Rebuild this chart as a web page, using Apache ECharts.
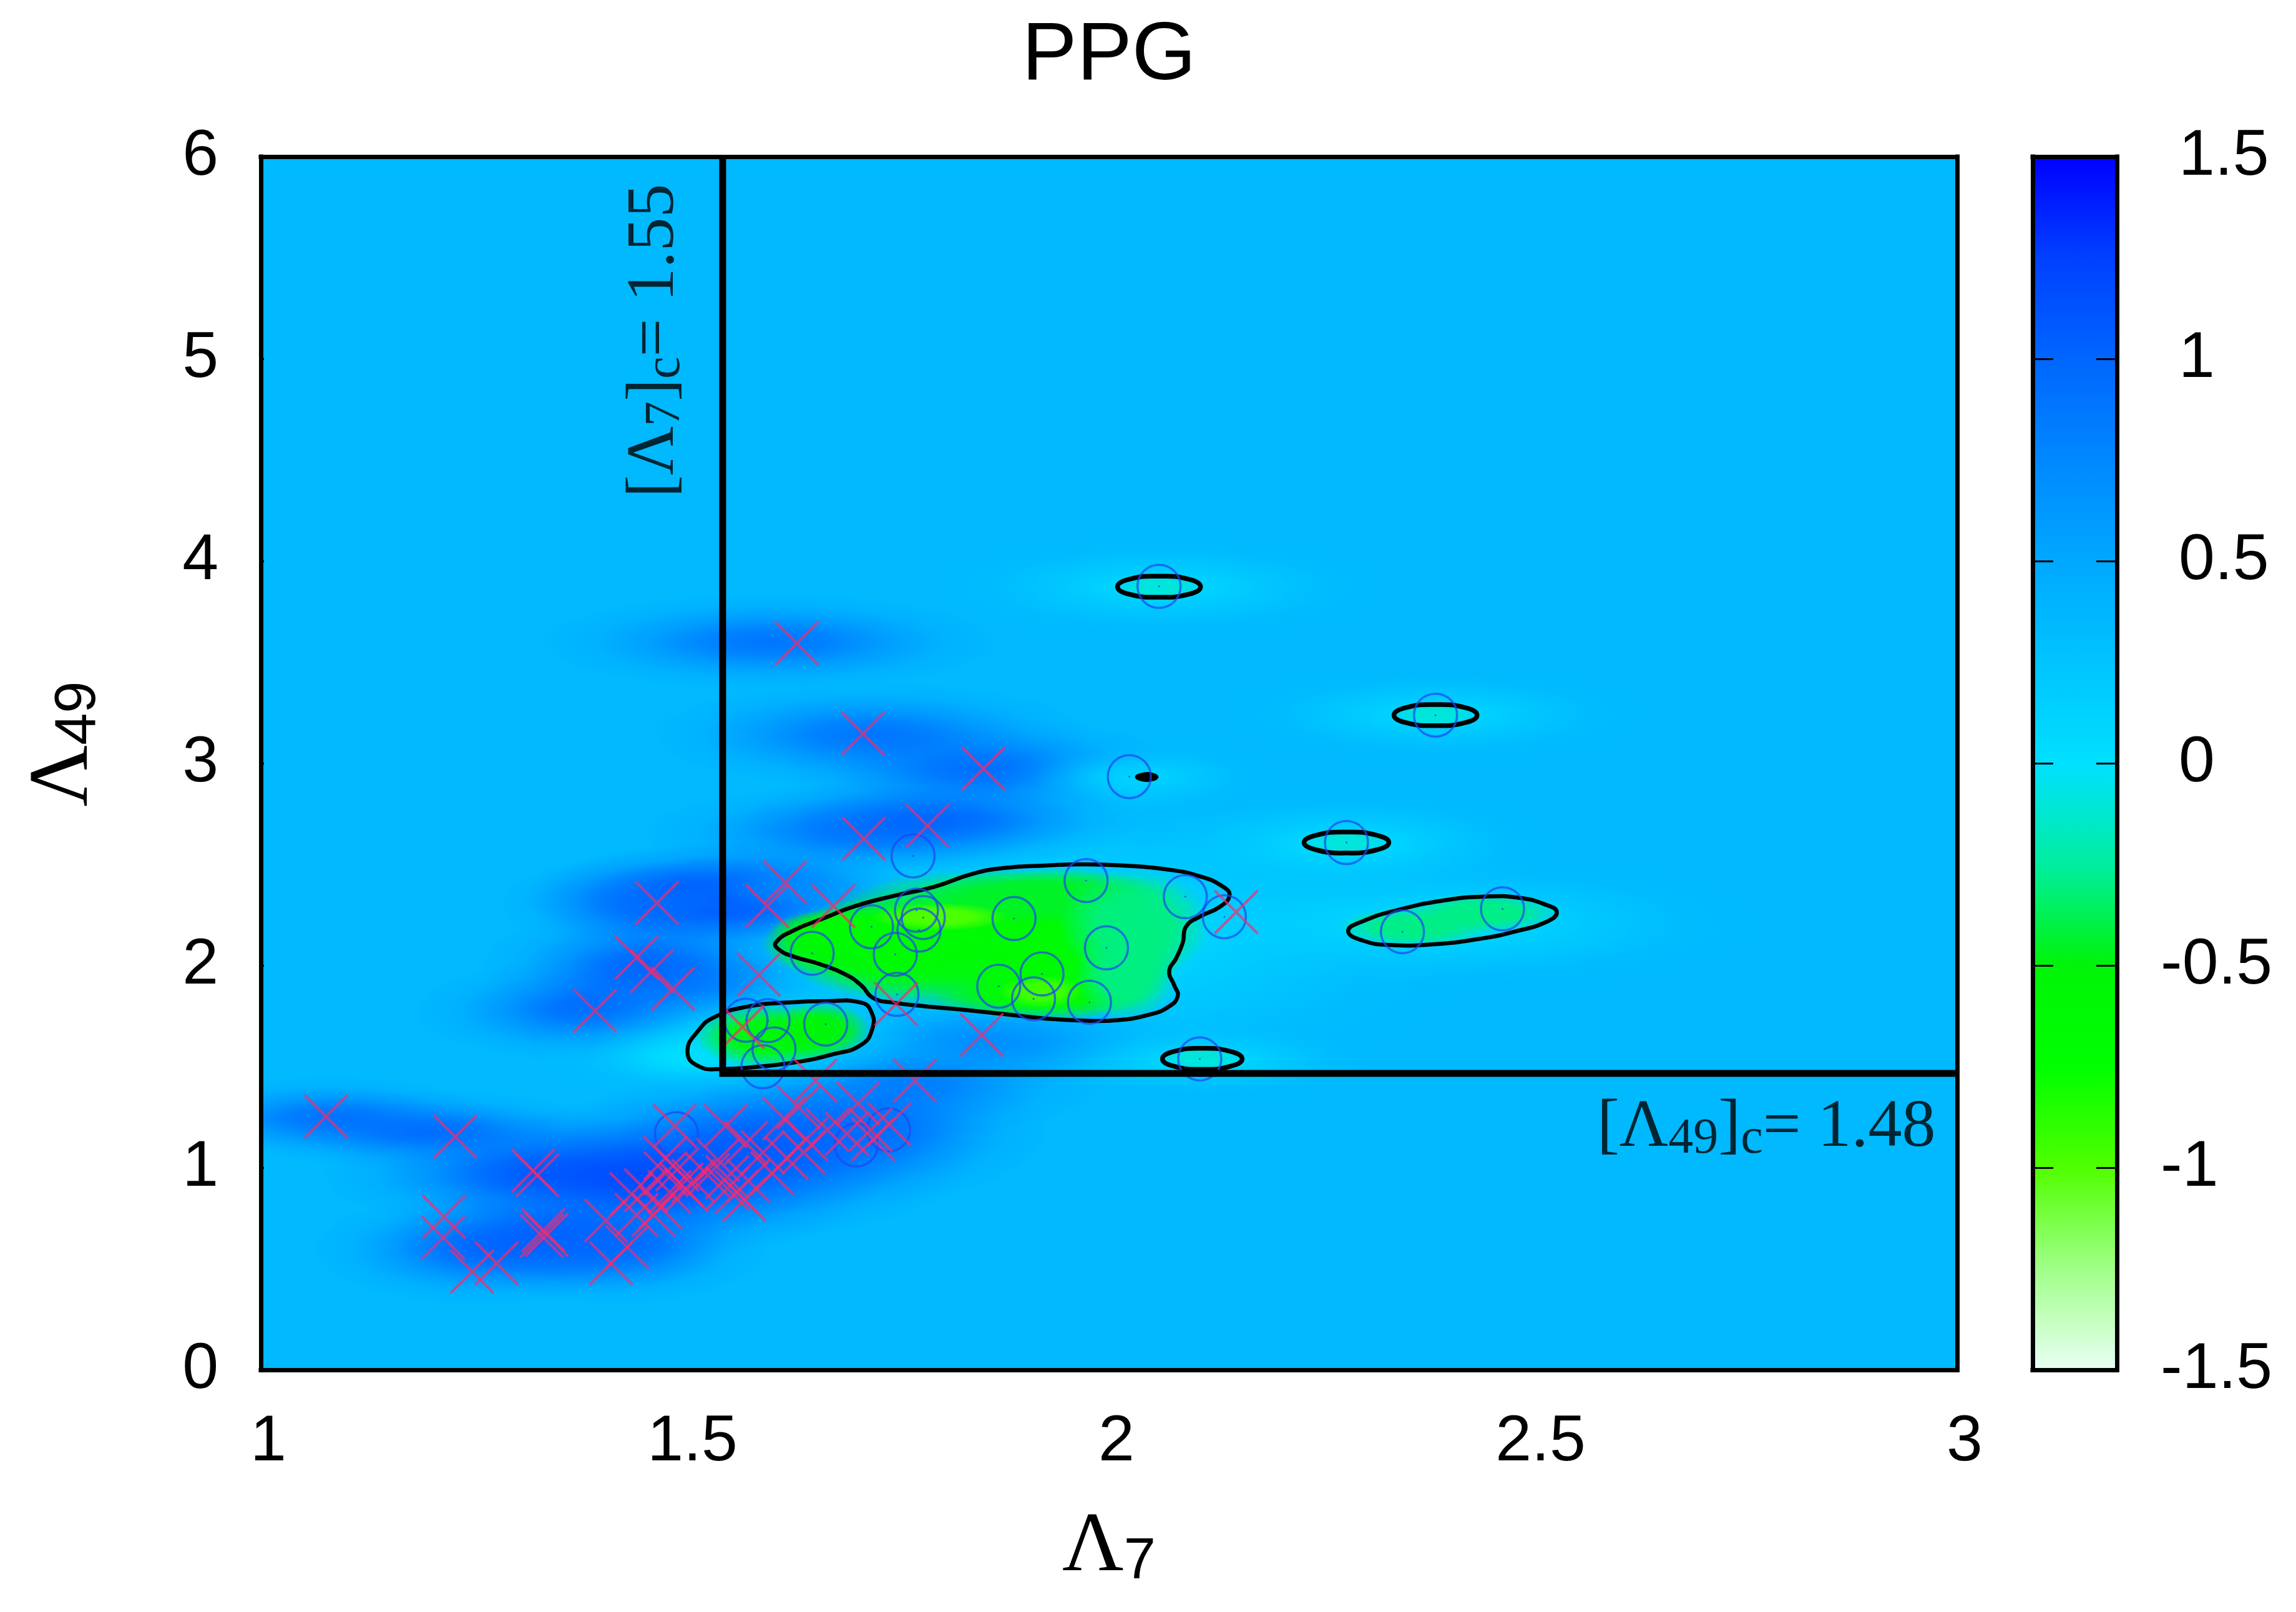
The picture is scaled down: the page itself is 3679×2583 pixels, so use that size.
<!DOCTYPE html>
<html><head><meta charset="utf-8">
<style>html,body{margin:0;padding:0;background:#fff}#c{width:3679px;height:2583px}</style>
<script src="https://cdn.jsdelivr.net/npm/echarts@6/dist/echarts.min.js"></script>
</head><body><div id="c"></div>
<script>
const xTickLabels = ['1','1.5','2','2.5','3'];
const yTickLabels = ['0','1','2','3','4','5','6'];
const barTickLabels = ['-1.5','-1','-0.5',' 0',' 0.5',' 1',' 1.5'];
// colour ramp, -1.5 .. 1.5 in steps of 0.25
const palette = ['#e8fff4','#a0ff88','#50ff00','#00ff00','#00f408','#00eea0','#00e0ff','#00c4ff','#00a8ff','#0088ff','#0066ff','#0040ff','#0000ff'];
const fieldBase = '#00b9ff';
// field blobs: x, y, spread x, spread y, value
const blueBlobs = [
 [1.60,3.60,.27,.24,.95],[1.72,3.14,.26,.26,.95],[1.85,2.97,.24,.26,1.0],
 [1.72,2.65,.27,.25,.95],[1.80,2.71,.24,.24,1.1],
 [1.55,2.33,.24,.28,1.45],[1.47,2.31,.19,.24,.95],[1.62,2.38,.17,.2,.8],
 [1.46,1.99,.2,.32,1.1],[1.40,1.78,.22,.26,1.05],[1.50,1.90,.17,.24,.95],
 [1.08,1.25,.2,.2,.95],[1.20,1.18,.22,.2,1.0],
 [1.33,.97,.26,.3,1.1],[1.47,.95,.26,.4,1.25],[1.60,1.1,.25,.44,1.15],[1.71,1.2,.22,.38,1.0],
 [1.26,.6,.2,.28,1.0],[1.35,.66,.2,.3,1.1],[1.42,.62,.18,.3,1.0],
 [1.86,1.65,.24,.26,.85],[1.75,1.42,.24,.28,.9]
];
const cyanBlobs = [
 [1.95,2.15,.5,.75,.0],[1.58,1.62,.26,.36,.0],[1.50,1.55,.12,.15,.0],[2.40,2.21,.36,.32,.03],
 [2.06,3.87,.26,.24,.05],[2.385,3.24,.24,.22,.05],[2.28,2.60,.24,.26,.04],[2.11,1.53,.2,.18,.03],[2.03,2.93,.16,.18,.08]
];
const greenBlobs = [
 [1.84,2.12,.2,.36,-.65],[1.95,2.11,.14,.38,-.65],[1.74,2.09,.13,.26,-.65],[1.67,2.11,.08,.16,-.6],[1.92,1.86,.13,.13,-.65],
 [1.92,2.34,.16,.14,-.45],[1.70,2.17,.1,.12,-.65],
 [2.03,2.2,.09,.28,-.3],[2.02,1.95,.06,.22,-.3],
 [1.80,2.24,.08,.07,-1.0],[1.92,1.87,.05,.08,-.95],
 [1.60,1.65,.09,.16,-.6],[1.66,1.68,.06,.14,-.55],
 [2.36,2.19,.09,.1,-.3],[2.44,2.26,.09,.1,-.3],
 [2.06,3.87,.05,.06,-.1],[2.385,3.24,.05,.06,-.1],[2.28,2.61,.05,.06,-.1],[2.11,1.54,.05,.06,-.1]
];
// 0.5 level contours
const contourMain = [[1.607,2.113],[1.629,2.175],[1.661,2.229],[1.699,2.291],[1.746,2.344],[1.793,2.388],[1.840,2.454],[1.877,2.482],[1.924,2.494],[1.971,2.500],[2.018,2.494],[2.065,2.477],[2.107,2.441],[2.135,2.388],[2.142,2.344],[2.131,2.291],[2.107,2.241],[2.091,2.193],[2.087,2.113],[2.079,2.034],[2.071,1.972],[2.077,1.901],[2.081,1.848],[2.070,1.795],[2.046,1.755],[2.009,1.729],[1.971,1.727],[1.924,1.738],[1.877,1.759],[1.830,1.780],[1.783,1.798],[1.746,1.816],[1.722,1.839],[1.708,1.901],[1.690,1.954],[1.661,2.004],[1.629,2.043],[1.611,2.078]];
const contourLow = [[1.503,1.573],[1.516,1.679],[1.535,1.745],[1.572,1.795],[1.619,1.816],[1.666,1.823],[1.708,1.816],[1.720,1.768],[1.721,1.688],[1.708,1.608],[1.675,1.561],[1.633,1.523],[1.586,1.499],[1.544,1.488],[1.516,1.502]];
const contourRight = [[2.282,2.170],[2.300,2.220],[2.342,2.276],[2.394,2.321],[2.441,2.340],[2.483,2.335],[2.516,2.299],[2.528,2.264],[2.518,2.220],[2.478,2.167],[2.436,2.131],[2.384,2.105],[2.333,2.101],[2.300,2.122]];
const contourA = [[2.010,3.873],[2.024,3.910],[2.059,3.925],[2.094,3.910],[2.108,3.873],[2.094,3.836],[2.059,3.821],[2.024,3.836]];
const contourB = [[2.336,3.238],[2.350,3.275],[2.385,3.290],[2.420,3.275],[2.434,3.238],[2.420,3.201],[2.385,3.186],[2.350,3.201]];
const contourC = [[2.230,2.608],[2.245,2.645],[2.280,2.660],[2.315,2.645],[2.330,2.608],[2.315,2.571],[2.280,2.556],[2.245,2.571]];
const contourD = [[2.063,1.538],[2.077,1.575],[2.110,1.590],[2.143,1.575],[2.157,1.538],[2.143,1.501],[2.110,1.486],[2.077,1.501]];
const contourE = [[2.033,2.932],[2.040,2.944],[2.050,2.944],[2.056,2.932],[2.050,2.920],[2.040,2.920]];
const contours = [contourMain,contourLow,contourRight,contourA,contourB,contourC,contourD,contourE];
// class A sample points (circles)
const circles = [[2.059,3.875],[2.024,2.934],[1.769,2.542],[1.973,2.420],[2.090,2.340],[2.136,2.241],[1.773,2.273],[1.781,2.237],[1.776,2.175],[1.720,2.191],[1.888,2.232],[1.650,2.060],[1.748,2.055],[1.997,2.087],[1.921,1.958],[1.870,1.897],[1.911,1.835],[1.977,1.818],[1.750,1.857],[1.666,1.710],[1.598,1.727],[1.572,1.729],[1.605,1.587],[1.592,1.499],[2.107,1.538],[2.385,3.238],[2.280,2.608],[2.346,2.167],[2.464,2.280],[1.490,1.168],[1.702,1.112],[1.740,1.187]];
// class B sample points (crosses)
const crosses = [[1.077,1.253],[1.229,1.153],[1.321,.985],[1.326,.962],[1.216,.757],[1.215,.654],[1.333,.692],[1.337,.668],[1.331,.663],[1.249,.486],[1.278,.527],[1.407,.738],[1.432,.607],[1.413,.527],
[1.467,2.309],[1.443,2.038],[1.461,1.972],[1.486,1.885],[1.394,1.776],[1.597,2.294],[1.618,2.411],[1.675,2.294],[1.587,1.954],[1.568,1.696],[1.711,2.627],[1.786,2.691],[1.850,1.656],[1.749,1.809],[1.632,3.593],[1.710,3.146],[1.852,2.973],[2.150,2.264],
[1.654,1.430],[1.771,1.430],[1.634,1.299],[1.704,1.318],[1.617,1.243],[1.548,1.206],[1.488,1.206],[1.643,1.140],[1.668,1.187],[1.691,1.168],[1.719,1.187],[1.741,1.215],[1.722,1.140],[1.539,1.038],[1.572,1.122],[1.592,1.075],[1.620,1.047],[1.640,1.075],[1.477,1.047],[1.491,.991],
[1.477,.972],[1.496,.916],[1.482,.879],[1.510,.935],[1.502,.888],[1.471,.804],[1.463,.766],[1.437,.869],[1.454,.888],[1.443,.766],[1.527,.963],[1.550,.953],[1.575,.935],[1.570,.841],[1.550,.897],[1.603,.972],[1.561,.879]];
const criticalLine = [[1.5445,6],[1.5445,1.466],[3,1.466]];
const barRange = [[0,-1.5,1,1.5]];

const LAMBDA = '\u039B';
const serif = 'Liberation Serif', sans = 'Liberation Sans';
const chart = echarts.init(document.getElementById('c'), null, {renderer:'canvas'});
const blobs = blueBlobs.concat(cyanBlobs, greenBlobs);

function renderBlob(params, api){
  const c = api.coord([api.value(0), api.value(1)]);
  const s = api.size([api.value(2), api.value(3)]);
  const col = api.visual('color');
  const soft = params.dataIndex < blueBlobs.length + cyanBlobs.length;
  const A = echarts.color.modifyAlpha;
  const stops = soft
    ? [{offset:0,color:A(col,.9)},{offset:.25,color:A(col,.72)},{offset:.5,color:A(col,.36)},{offset:.75,color:A(col,.1)},{offset:1,color:A(col,0)}]
    : [{offset:0,color:col},{offset:.5,color:A(col,.92)},{offset:.8,color:A(col,.4)},{offset:1,color:A(col,0)}];
  return {type:'circle', x:c[0], y:c[1], scaleX:s[0], scaleY:s[1], silent:true,
    shape:{cx:0,cy:0,r:1},
    style:{fill:{type:'radial',x:.5,y:.5,r:.5,colorStops:stops}}};
}
function renderContour(params, api){
  const pts = contours[params.dataIndex].map(p=>api.coord(p));
  const last = params.dataIndex===contours.length-1;
  return {type:'polygon', silent:true, shape:{points:pts, smooth:.5},
    style:{fill:last?'#000':'none', stroke:'#000', lineWidth:params.dataIndex>2&&!last?7.5:6.5}};
}
function renderBar(params, api){
  const a = api.coord([api.value(0),api.value(1)]), b = api.coord([api.value(2),api.value(3)]);
  return {type:'rect', silent:true, shape:{x:a[0],y:b[1],width:b[0]-a[0],height:a[1]-b[1]},
    style:{fill:{type:'linear',x:0,y:1,x2:0,y2:0,colorStops:palette.map((c,i)=>({offset:i/(palette.length-1),color:c}))}}};
}
const tickFont = {fontFamily:sans,fontSize:104,color:'#000'};
const frame = {show:true,lineStyle:{color:'#000',width:7,cap:'square'}};
const hiddenX = (g,pos,min,max)=>({type:'value',gridIndex:g,position:pos,min,max,z:6,axisLine:{show:true,onZero:false,lineStyle:frame.lineStyle},axisTick:{show:false},axisLabel:{show:false},splitLine:{show:false}});
const nameRich = {l:{fontFamily:serif,fontSize:136,color:'#000'},s:{fontFamily:sans,fontSize:92,color:'#000',padding:[48,0,0,0]}};

chart.setOption({
  animation:false, backgroundColor:'#ffffff',
  title:{text:'PPG',left:1772,top:20,textAlign:'center',textStyle:{fontFamily:sans,fontSize:132,fontWeight:'normal',color:'#000'}},
  grid:[{left:418,top:251,width:2718,height:1944,backgroundColor:fieldBase,show:true,borderWidth:0,outerBoundsMode:'none',containLabel:false},
        {left:3257,top:251,width:135,height:1944,outerBoundsMode:'none',containLabel:false}],
  visualMap:{type:'continuous',show:false,min:-1.5,max:1.5,dimension:4,seriesIndex:0,inRange:{color:palette}},
  xAxis:[
    {type:'value',gridIndex:0,position:'bottom',min:1,max:3,interval:.5,z:6,
      axisLine:{show:true,onZero:false,lineStyle:frame.lineStyle},axisTick:{show:false},splitLine:{show:false},
      axisLabel:Object.assign({margin:64,padding:[0,0,0,24],formatter:v=>xTickLabels[Math.round((v-1)*2)],hideOverlap:false,showMinLabel:true,showMaxLabel:true},tickFont),
      name:'{l|'+LAMBDA+'}{s|7}',nameLocation:'middle',nameGap:215,
      nameTextStyle:{rich:nameRich}},
    hiddenX(0,'top',1,3),
    hiddenX(1,'bottom',0,1),
    hiddenX(1,'top',0,1)
  ],
  yAxis:[
    {type:'value',gridIndex:0,position:'left',min:0,max:6,interval:1,z:6,
      axisLine:{show:true,onZero:false,lineStyle:frame.lineStyle},axisTick:{show:true,inside:true,length:5,lineStyle:{width:3,color:'#000'}},splitLine:{show:false},
      axisLabel:Object.assign({margin:68,padding:[24,0,0,0],formatter:v=>yTickLabels[Math.round(v)],showMinLabel:true,showMaxLabel:true},tickFont),
      name:'{l|'+LAMBDA+'}{s|49}',nameLocation:'middle',nameGap:245,nameRotate:90,
      nameTextStyle:{padding:[0,0,0,62],rich:nameRich}},
    {type:'value',gridIndex:0,position:'right',min:0,max:6,z:6,axisLine:{show:true,onZero:false,lineStyle:frame.lineStyle},axisTick:{show:false},axisLabel:{show:false},splitLine:{show:false}},
    {type:'value',gridIndex:1,position:'right',min:-1.5,max:1.5,interval:.5,z:6,
      axisLine:{show:true,onZero:false,lineStyle:frame.lineStyle},axisTick:{show:true,inside:true,length:33,lineStyle:{width:3,color:'#000'}},splitLine:{show:false},
      axisLabel:Object.assign({margin:70,align:'left',padding:[24,0,0,0],formatter:v=>barTickLabels[Math.round((v+1.5)*2)],showMinLabel:true,showMaxLabel:true},tickFont)},
    {type:'value',gridIndex:1,position:'left',min:-1.5,max:1.5,interval:.5,z:6,
      axisLine:{show:true,onZero:false,lineStyle:frame.lineStyle},axisTick:{show:true,inside:true,length:33,lineStyle:{width:3,color:'#000'}},axisLabel:{show:false},splitLine:{show:false}}
  ],
  series:[
    {type:'custom',name:'field',xAxisIndex:0,yAxisIndex:0,clip:true,z:1,encode:{x:0,y:1},data:blobs,renderItem:renderBlob},
    {type:'custom',name:'contour',xAxisIndex:0,yAxisIndex:0,clip:true,z:2,data:contours.map((c,i)=>[i]),renderItem:renderContour},
    {type:'scatter',name:'circles',xAxisIndex:0,yAxisIndex:0,z:3,symbol:'circle',symbolSize:69,data:circles,silent:true,
      itemStyle:{color:'rgba(0,0,0,0)',borderColor:'rgba(30,70,240,.9)',borderWidth:3.5}},
    {type:'scatter',name:'circle centres',xAxisIndex:0,yAxisIndex:0,z:3,symbol:'circle',symbolSize:3,data:circles,silent:true,itemStyle:{color:'#1e46f0'}},
    {type:'scatter',name:'crosses',xAxisIndex:0,yAxisIndex:0,z:4,symbol:'path://M0 0L100 100M100 0L0 100',symbolSize:69,data:crosses,silent:true,
      itemStyle:{color:'rgba(0,0,0,0)',borderColor:'rgba(255,40,105,.85)',borderWidth:4}},
    {type:'line',name:'critical',xAxisIndex:0,yAxisIndex:0,z:5,data:criticalLine,symbol:'none',silent:true,lineStyle:{color:'#000',width:11,join:'miter'}},
    {type:'scatter',name:'labels',xAxisIndex:0,yAxisIndex:0,z:5,symbol:'circle',symbolSize:1,itemStyle:{color:'rgba(0,0,0,0)'},silent:true,
      data:[
        {value:[1.4645,5.09],label:{show:true,position:'inside',rotate:90,formatter:'{t|['+LAMBDA+'}{s|7}{t|]}{s|c}{t|= 1.55}'}},
        {value:[2.775,1.196],label:{show:true,position:'inside',formatter:'{t|['+LAMBDA+'}{s|49}{t|]}{s|c}{t|= 1.48}'}}
      ],
      label:{rich:{t:{fontFamily:serif,fontSize:108,color:'#000'},s:{fontFamily:serif,fontSize:80,color:'#000',padding:[36,0,0,0]}}}},
    {type:'custom',name:'colour bar',xAxisIndex:2,yAxisIndex:2,clip:true,z:1,data:barRange,renderItem:renderBar}
  ]
});
</script></body></html>
